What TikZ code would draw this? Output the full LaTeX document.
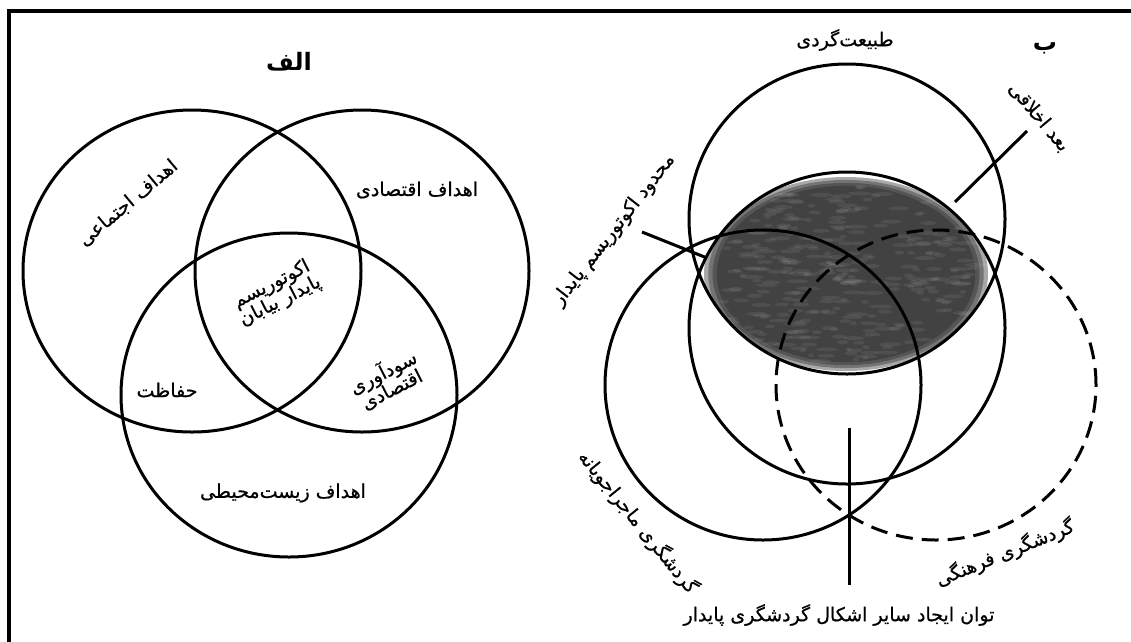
\documentclass[tikz,border=0pt]{standalone}
\usepackage{fontspec}
\newfontfamily\farsifont[Script=Arabic, FakeBold=0.6]{DejaVu Sans}
\newfontfamily\farsibold[Script=Arabic]{DejaVu Sans Bold}
\TeXXeTstate=1
\newcommand{\fatxt}[1]{\beginR #1\endR}
\tikzset{
  lab/.style={font=\farsifont\fontsize{19}{22}\selectfont, inner sep=1pt, align=center},
  ttl/.style={font=\farsibold\fontsize{24}{27}\selectfont, inner sep=1pt},
  ring/.style={line width=3pt},
  ringdash/.style={line width=3pt, dash pattern=on 17pt off 9pt},
  leader/.style={line width=3pt},
  frame/.style={line width=3.6pt}
}
\begin{document}
\begin{tikzpicture}[x=1pt,y=-1pt]
\useasboundingbox (0,0) rectangle (1131,641);
% frame (top and left edges)
\coordinate (fbl) at (9,650);
\coordinate (ftl) at (9,11);
\coordinate (ftr) at (1140,11);
\draw[frame] (fbl) -- (ftl) -- (ftr);

% ---------------- left Venn
\draw[ring] (192,271) ellipse [x radius=169pt, y radius=161pt];
\draw[ring] (362,271) ellipse [x radius=167pt, y radius=161pt];
\draw[ring] (289,395) ellipse [x radius=168pt, y radius=162pt];

\node[ttl] (alef) at (289,62) {\fatxt{الف}};
\node[lab, rotate=40] (soc) at (128,203) {\fatxt{اهداف اجتماعی}};
\node[lab] (eco) at (417,190) {\fatxt{اهداف اقتصادی}};
\node[lab, rotate=27] (core) at (276,293) {\fatxt{اکوتوریسم}\\[-3pt]\fatxt{پایدار بیابان}};
\node[lab] (haf) at (167,390) {\fatxt{حفاظت}};
\node[lab, rotate=27] (sud) at (387,380) {\fatxt{سودآوری}\\[-3pt]\fatxt{اقتصادی}};
\node[lab] (env) at (283,493) {\fatxt{اهداف زیست‌محیطی}};

% ---------------- right diagram
\begin{scope}
  \clip (847,219) ellipse [x radius=158pt, y radius=155pt];
  \clip (847,328) ellipse [x radius=158pt, y radius=156pt];
  \foreach \s in {1.00,0.97,0.94,0.91}
    \fill[black!85, opacity=0.4] (846,274) ellipse [x radius={\s*142pt}, y radius={\s*97pt}];
  \pgfmathsetseed{11}
  \foreach \i in {1,...,300}{
    \pgfmathsetmacro{\ang}{360*rnd}
    \pgfmathsetmacro{\rr}{sqrt(rnd)}
    \pgfmathsetmacro{\ww}{3+9*rnd}
    \fill[white, opacity=0.07] ({846+132*\rr*cos(\ang)},{274+90*\rr*sin(\ang)}) ellipse [x radius={\ww*1pt}, y radius=2pt];
  }
\end{scope}

\draw[ring] (847,219) ellipse [x radius=158pt, y radius=155pt];
\draw[ring] (847,328) ellipse [x radius=158pt, y radius=156pt];
\draw[ring] (763,385) ellipse [x radius=158pt, y radius=155pt];
\draw[ringdash] (936,385) ellipse [x radius=160pt, y radius=155pt];

\node[lab] (tab) at (845,40) {\fatxt{طبیعت‌گردی}};
\node[ttl] (be) at (1045,48) {\fatxt{ب}};

\coordinate (a1) at (955,202);
\coordinate (a2) at (1027,131);
\draw[leader] (a1) -- (a2);
\node[lab, rotate=-50] (akh) at (1039,117) {\fatxt{بعد اخلاقی}};

\coordinate (m1) at (642,232);
\coordinate (m2) at (707,258);
\draw[leader] (m1) -- (m2);
\node[lab, rotate=52] (mah) at (614,230) {\fatxt{محدود اکوتوریسم پایدار}};

\coordinate (v1) at (849,428);
\coordinate (v2) at (849,585);
\draw[leader] (v1) -- (v2);
\node[lab] (tav) at (839,615) {\fatxt{توان ایجاد سایر اشکال گردشگری پایدار}};

\node[lab, rotate=-51] (adv) at (638,522) {\fatxt{گردشگری ماجراجویانه}};
\node[lab, rotate=22] (cul) at (1005,553) {\fatxt{گردشگری فرهنگی}};
\end{tikzpicture}
\end{document}
